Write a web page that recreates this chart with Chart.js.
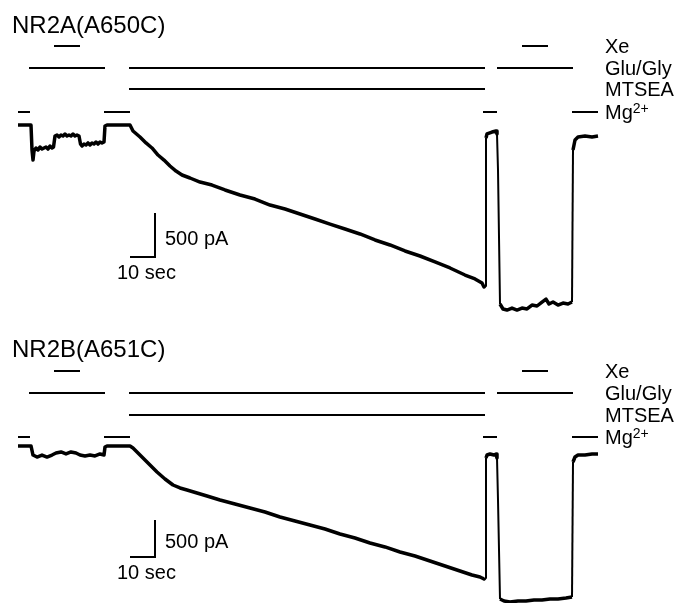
<!DOCTYPE html>
<html>
<head>
<meta charset="utf-8">
<script src="https://cdn.jsdelivr.net/npm/chart.js@4"></script>
<style>
  body { margin: 0; background: #fff; }
  #wrap { position: relative; width: 676px; height: 603px; }
  canvas { position: absolute; left: 0; }
  #canvasA { top: 0; }
  #canvasB { top: 320px; }
</style>
</head>
<body>
<div id="wrap">
  <canvas id="canvasA" width="676" height="320"></canvas>
  <canvas id="canvasB" width="676" height="283"></canvas>
</div>
<script>
// time in seconds, current in pA
let timesA = [0, 5.2, 5.6, 6.0, 6.4, 7.2, 8.0, 8.8, 9.6, 10.4, 11.2, 12.0, 12.8, 13.6, 14.2,
    14.8, 15.6, 16.4, 17.2, 18.0, 18.8, 19.6, 20.4, 21.2, 22.0, 22.8, 23.6, 24.4,
    25.0, 25.6, 26.4, 27.2, 28.0, 28.8, 29.6, 30.4, 31.2, 32.0, 32.8, 33.6, 34.4, 34.8, 35.6, 44.8,
    46.0, 48.8, 51.2, 53.6, 56.0, 58.4, 60.8, 63.2, 65.6, 68.8, 72.8, 77.6, 82.8, 88.8, 94.8, 100.8, 106.8, 112.8, 118.8,
    124.8, 130.8, 136.8, 142.8, 148.8, 154.8, 160.8, 166.8, 172.8, 178.8, 182.8, 185.6, 186.4, 186.8,
    187.2, 187.6, 189.6, 191.2, 191.6, 192.0, 192.8, 194.0, 195.6, 197.6, 199.6, 201.6, 203.6, 205.6, 207.6, 209.6, 211.2,
    212.4, 214.0, 216.0, 218.0, 220.0, 221.6, 222.0, 222.8, 224.0, 226.8, 229.6, 232.0];
let currentA = [0, 0, -284, -398, -295, -261, -284, -250, -273, -261, -250, -273, -239, -261, -250,
    -125, -114, -136, -114, -125, -102, -125, -114, -125, -102, -125, -114, -125,
    -216, -239, -216, -227, -204, -227, -204, -216, -193, -216, -193, -204, -193, -11, 0, 0,
    -68, -136, -204, -261, -341, -398, -466, -523, -568, -602, -648, -682, -738, -795, -841, -909, -954, -1011, -1068,
    -1125, -1181, -1238, -1306, -1363, -1431, -1488, -1556, -1624, -1704, -1749, -1795, -1840, -1829,
    -148, -102, -80, -68, -102, -511, -2033, -2090, -2102, -2079, -2102, -2079, -2090, -2045, -2056, -2011, -1977,
    -2033, -2011, -2045, -2022, -2033, -2011, -284, -170, -136, -125, -136, -125];

let timesB = [0, 5.2, 6.0, 7.6, 9.6, 11.6, 13.6, 15.2, 17.2, 19.2, 21.2, 23.2, 24.8, 26.8, 28.8, 30.8, 32.8, 34.4, 34.8, 35.6, 44.8,
    46.0, 48.0, 50.0, 52.8, 55.6, 58.8, 62.0, 64.8, 67.6, 71.6, 75.6, 80.8, 86.8, 92.8, 98.8, 104.8, 110.8, 116.8, 122.8,
    128.8, 134.8, 140.8, 146.8, 152.8, 158.8, 164.8, 170.8, 176.8, 181.6, 184.8, 186.4, 186.8,
    187.2, 187.6, 188.8, 190.4, 191.2, 191.6, 192.0, 192.8, 194.4, 196.8, 200.0, 203.2, 206.4, 209.6, 212.8, 216.0, 219.2, 221.6,
    222.0, 222.8, 224.0, 226.8, 229.6, 232.0];
let currentB = [0, 0, -122, -149, -122, -149, -122, -95, -81, -108, -81, -95, -122, -135, -122, -135, -108, -122, -14, 0, 0,
    -27, -95, -162, -257, -351, -446, -527, -567, -594, -635, -676, -730, -784, -838, -892, -959, -1013, -1067, -1121,
    -1189, -1243, -1310, -1364, -1432, -1486, -1554, -1621, -1689, -1743, -1770, -1797, -1783,
    -162, -122, -108, -122, -108, -162, -730, -2067, -2094, -2108, -2094, -2094, -2081, -2081, -2067, -2067, -2054, -2040,
    -216, -149, -122, -122, -108, -108];

// solution application periods [start, end] in seconds (same protocol for both cells)
let rowLabels = ['Xe', 'Glu/Gly', 'MTSEA', 'Mg'];
let xePeriods = [[14.4, 24.8], [201.6, 212.0]];
let gluPeriods = [[4.4, 34.8], [44.4, 186.8], [191.6, 222.0]];
let mtseaPeriods = [[44.4, 186.8]];
let mgPeriods = [[0, 4.8], [34.4, 44.8], [186.0, 191.6], [221.6, 232.0]];

let scaleBarTime = 10;   // sec
let scaleBarCurrent = 500; // pA

const FONT = '"Liberation Sans", Arial, Helvetica, sans-serif';

const tracePlugin = {
    id: 'traceExtras',
    afterDatasetsDraw(chart, args, opts) {
        const ctx = chart.ctx;
        const x = chart.scales.x;
        const y = chart.scales.y;
        ctx.save();
        ctx.fillStyle = '#000';
        ctx.strokeStyle = '#000';
        ctx.textAlign = 'left';
        ctx.textBaseline = 'alphabetic';

        // panel name
        ctx.font = '24px ' + FONT;
        ctx.fillText(opts.title, 12, opts.titleY);

        // application bars
        let periods = [xePeriods, gluPeriods, mtseaPeriods, mgPeriods];
        ctx.lineWidth = 2;
        periods.forEach(function (list, i) {
            let yy = opts.rows[i];
            list.forEach(function (p) {
                ctx.beginPath();
                ctx.moveTo(x.getPixelForValue(p[0]), yy);
                ctx.lineTo(x.getPixelForValue(p[1]), yy);
                ctx.stroke();
            });
            ctx.font = '20px ' + FONT;
            ctx.fillText(rowLabels[i], 605, yy + 7);
            if (rowLabels[i] === 'Mg') {
                let w = ctx.measureText('Mg').width;
                ctx.font = '14px ' + FONT;
                ctx.fillText('2+', 605 + w, yy + 1);
            }
        });

        // scale bar
        let t0 = opts.barTime, v0 = opts.barCurrent;
        let cx = x.getPixelForValue(t0 + scaleBarTime);
        let cy = y.getPixelForValue(v0);
        let lx = x.getPixelForValue(t0);
        let ty = y.getPixelForValue(v0 + scaleBarCurrent);
        ctx.lineWidth = 2;
        ctx.beginPath();
        ctx.moveTo(lx, cy);
        ctx.lineTo(cx, cy);
        ctx.lineTo(cx, ty);
        ctx.stroke();
        ctx.font = '20px ' + FONT;
        ctx.textBaseline = 'middle';
        ctx.fillText(scaleBarCurrent + ' pA', cx + 10, (cy + ty) / 2 + 4);
        ctx.textBaseline = 'alphabetic';
        ctx.fillText(scaleBarTime + ' sec', lx - 13, cy + 22);
        ctx.restore();
    }
};

function makeTrace(canvasId, times, current, yMin, yMax, extras) {
    let c = document.getElementById(canvasId).getContext('2d');
    return new Chart(c, {
        type: 'line',
        data: {
            datasets: [
                {
                    data: times.map(function (t, i) { return { x: t, y: current[i] }; }),
                    borderColor: '#000',
                    borderWidth: 3.5,
                    borderJoinStyle: 'round',
                    pointRadius: 0,
                    tension: 0,
                    fill: false,
                    clip: false,
                    segment: {
                        borderWidth: function (s) {
                            let dt = Math.abs(s.p1.parsed.x - s.p0.parsed.x);
                            let dv = Math.abs(s.p1.parsed.y - s.p0.parsed.y);
                            return (dt < 1 && dv > 300) ? 2 : 3.5;
                        }
                    }
                }
            ]
        },
        options: {
            responsive: false,
            animation: false,
            devicePixelRatio: 1,
            layout: { padding: { left: 18, right: 78, top: 0, bottom: 0 } },
            plugins: {
                legend: { display: false },
                tooltip: { enabled: false },
                traceExtras: extras
            },
            scales: {
                x: { type: 'linear', display: false, min: 0, max: 232 },
                y: { type: 'linear', display: false, min: yMin, max: yMax }
            }
        },
        plugins: [tracePlugin]
    });
}

makeTrace('canvasA', timesA, currentA, -2215, 1420, {
    title: 'NR2A(A650C)', titleY: 33, rows: [46, 68, 89, 112], barTime: 44.8, barCurrent: -1500
});
makeTrace('canvasB', timesB, currentB, -2121, 1702, {
    title: 'NR2B(A651C)', titleY: 37, rows: [51, 73, 95, 117], barTime: 44.8, barCurrent: -1500
});
</script>
</body>
</html>
